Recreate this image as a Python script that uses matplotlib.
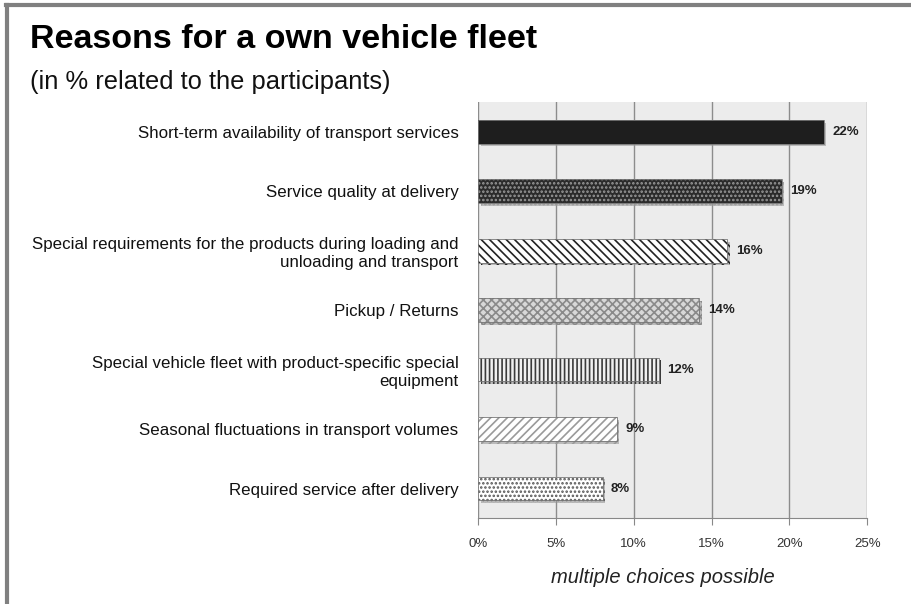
import matplotlib.pyplot as plt
import matplotlib.patheffects as pe
from matplotlib.lines import Line2D

plt.rcParams['font.family'] = ['Liberation Sans', 'DejaVu Sans']
plt.rcParams['hatch.linewidth'] = 1.2

# Data (top to bottom)
categories = [
    "Short-term availability of transport services",
    "Service quality at delivery",
    "Special requirements for the products during loading and\nunloading and transport",
    "Pickup / Returns",
    "Special vehicle fleet with product-specific special\nequipment",
    "Seasonal fluctuations in transport volumes",
    "Required service after delivery",
]
values = [22.2, 19.5, 16.0, 14.2, 11.6, 8.9, 8.0]
value_labels = ["22%", "19%", "16%", "14%", "12%", "9%", "8%"]
ticks = [0, 5, 10, 15, 20, 25]
tick_labels = ["0%", "5%", "10%", "15%", "20%", "25%"]

# Bar styles: face colour, hatch colour, hatch pattern
styles = [
    ("#1e1e1e", "#1e1e1e", None),
    ("#2b2b2b", "#9a9a9a", "...."),
    ("#ffffff", "#222222", "\\\\\\\\"),
    ("#d8d8d8", "#8a8a8a", "xxxx"),
    ("#f0f0f0", "#3a3a3a", "||||"),
    ("#ffffff", "#9a9a9a", "////"),
    ("#ffffff", "#555555", "...."),
]

fig = plt.figure(figsize=(9.12, 6.04), dpi=100)
ax = fig.add_axes([0.524, 0.142, 0.427, 0.689])
ax.set_facecolor("#ececec")

ypos = list(range(len(categories)))
for y, v, (fc, hc, hatch) in zip(ypos, values, styles):
    bar = ax.barh(y, v, height=0.4, color=fc, edgecolor=hc, linewidth=0,
                  hatch=hatch, zorder=3)[0]
    bar.set_path_effects([pe.SimplePatchShadow(offset=(2, -2), shadow_rgbFace="#999999", alpha=0.6),
                          pe.Normal()])
    # thin outline
    ax.barh(y, v, height=0.4, color="none", edgecolor="#777777", linewidth=0.6, zorder=4)

for y, v, lab in zip(ypos, values, value_labels):
    ax.text(v + 0.55, y, lab, va="center", ha="left", fontsize=9.5,
            fontweight="bold", color="#222222", zorder=5)

ax.set_xlim(0, 25)
ax.set_ylim(len(categories) - 0.5, -0.5)
ax.set_xticks(ticks)
ax.set_xticklabels(tick_labels, fontsize=9.5, color="#333333")
ax.set_yticks(ypos)
ax.set_yticklabels(categories, fontsize=12.2, color="#111111")
ax.tick_params(axis="y", length=0, pad=14)
ax.tick_params(axis="x", length=5, color="#888888", pad=9)
ax.grid(axis="x", color="#8c8c8c", linewidth=1, zorder=0)
ax.set_axisbelow(True)
for s in ["top", "right", "left"]:
    ax.spines[s].set_visible(False)
ax.spines["bottom"].set_color("#888888")

ax.text(0.476, -0.142, "multiple choices possible", transform=ax.transAxes,
        fontsize=14.5, style="italic", color="#222222", ha="center", va="center")

# Titles
fig.text(30 / 912, 1 - 40 / 604, "Reasons for a own vehicle fleet", fontsize=24.5,
         fontweight="bold", va="center", ha="left", color="#000000")
fig.text(30 / 912, 1 - 82 / 604, "(in % related to the participants)", fontsize=18.4,
         va="center", ha="left", color="#111111")

# Frame lines (left and top)
fig.add_artist(Line2D([7.5 / 912, 7.5 / 912], [0, 1 - 5 / 604], color="#808080",
                      linewidth=3, transform=fig.transFigure))
fig.add_artist(Line2D([6 / 912, 1], [1 - 5 / 604, 1 - 5 / 604], color="#808080",
                      linewidth=3, transform=fig.transFigure))

fig.savefig("out.png", dpi=100, facecolor="white")
